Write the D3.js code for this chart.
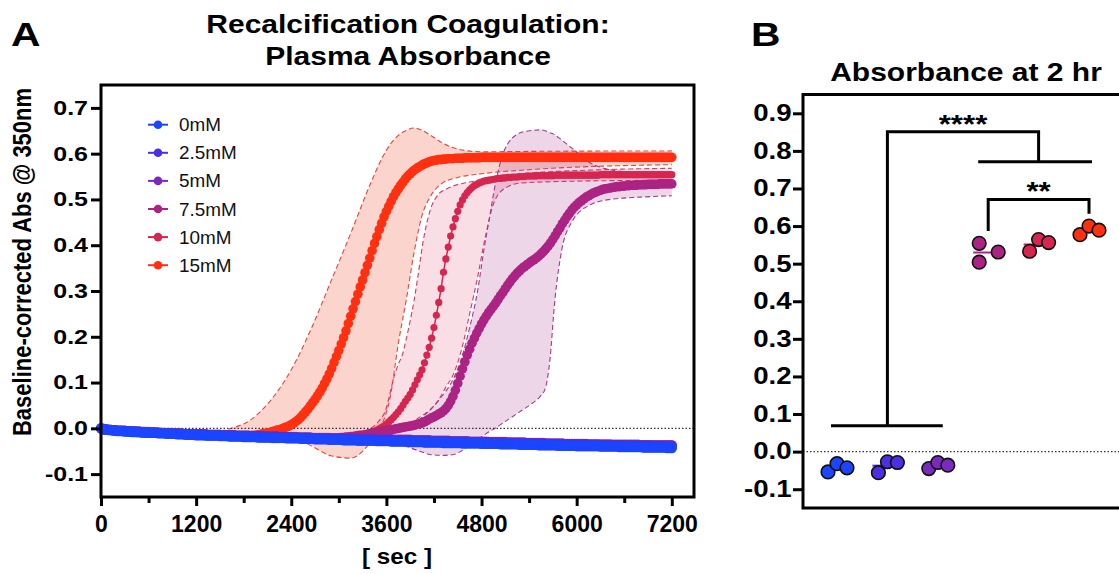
<!DOCTYPE html>
<html>
<head>
<meta charset="utf-8">
<script src="https://cdn.jsdelivr.net/npm/d3@7"></script>
<style>
  html, body { margin: 0; padding: 0; background: #fff; }
  svg { display: block; }
</style>
</head>
<body>
<div id="chart"></div>
<script>
// ---------- data ----------
const seriesNames = ["0mM", "2.5mM", "5mM", "7.5mM", "10mM", "15mM"];
const seriesColors = ["#1b45ff", "#4a30e2", "#7a2bbd", "#ab2383", "#d6264f", "#ff3010"];

// plate reads every 30 s, 0..7200 s ; absorbance values below are in milli-units
const readTimes = d3.range(0, 7201, 30);

const abs0mM = [0,-2,-3,-4,-4,-5,-5,-6,-6,-6,-7,-7,-7,-8,-8,-8,-8,-9,-9,-9,
-10,-10,-10,-10,-11,-11,-11,-11,-12,-12,-12,-12,-13,-13,-13,-13,-14,-14,-14,-14,
-15,-15,-15,-15,-16,-16,-16,-16,-16,-16,-17,-17,-17,-17,-18,-18,-18,-18,-18,-18,
-19,-19,-19,-19,-19,-19,-20,-20,-20,-20,-20,-20,-21,-21,-21,-21,-21,-21,-22,-22,
-22,-22,-22,-22,-23,-23,-23,-23,-23,-23,-24,-24,-24,-24,-24,-24,-25,-25,-25,-25,
-25,-25,-26,-26,-26,-26,-26,-26,-27,-27,-27,-27,-27,-27,-27,-27,-28,-28,-28,-28,
-28,-28,-29,-29,-29,-29,-29,-29,-29,-29,-30,-30,-30,-30,-30,-30,-31,-31,-31,-31,
-31,-31,-31,-31,-32,-32,-32,-32,-32,-32,-32,-32,-33,-33,-33,-33,-33,-33,-33,-33,
-34,-34,-34,-34,-34,-34,-34,-34,-35,-35,-35,-35,-35,-35,-35,-35,-36,-36,-36,-36,
-36,-36,-36,-36,-37,-37,-37,-37,-37,-37,-37,-37,-38,-38,-38,-38,-38,-38,-38,-38,
-39,-39,-39,-39,-39,-39,-39,-39,-39,-39,-40,-40,-40,-40,-40,-40,-40,-40,-41,-41,
-41,-41,-41,-41,-41,-41,-41,-41,-42,-42,-42,-42,-42,-42,-42,-42,-42,-42,-43,-43,
-43];

const abs25mM = [0,-2,-3,-3,-4,-4,-5,-5,-5,-6,-6,-6,-7,-7,-7,-8,-8,-8,-8,-9,
-9,-9,-9,-10,-10,-10,-10,-11,-11,-11,-11,-12,-12,-12,-12,-13,-13,-13,-13,-13,
-14,-14,-14,-14,-14,-15,-15,-15,-15,-15,-15,-16,-16,-16,-16,-16,-16,-17,-17,-17,
-17,-17,-17,-18,-18,-18,-18,-18,-18,-19,-19,-19,-19,-19,-19,-20,-20,-20,-20,-20,
-20,-21,-21,-21,-21,-21,-21,-22,-22,-22,-22,-22,-22,-22,-23,-23,-23,-23,-23,-23,
-23,-24,-24,-24,-24,-24,-24,-24,-25,-25,-25,-25,-25,-25,-25,-25,-26,-26,-26,-26,
-26,-26,-26,-26,-27,-27,-27,-27,-27,-27,-27,-27,-28,-28,-28,-28,-28,-28,-28,-28,
-29,-29,-29,-29,-29,-29,-29,-29,-30,-30,-30,-30,-30,-30,-30,-30,-31,-31,-31,-31,
-31,-31,-31,-31,-31,-31,-32,-32,-32,-32,-32,-32,-32,-32,-33,-33,-33,-33,-33,-33,
-33,-33,-34,-34,-34,-34,-34,-34,-34,-34,-35,-35,-35,-35,-35,-35,-35,-35,-35,-35,
-36,-36,-36,-36,-36,-36,-36,-36,-36,-36,-37,-37,-37,-37,-37,-37,-37,-37,-37,-37,
-38,-38,-38,-38,-38,-38,-38,-38,-38,-38,-38,-38,-39,-39,-39,-39,-39,-39,-39,-39,
-39];

const abs5mM = [0,-1,-2,-3,-3,-4,-4,-5,-5,-5,-5,-6,-6,-7,-7,-7,-7,-8,-8,-8,
-8,-9,-9,-9,-9,-10,-10,-10,-10,-10,-11,-11,-11,-11,-11,-12,-12,-12,-12,-12,
-13,-13,-13,-13,-13,-14,-14,-14,-14,-14,-14,-15,-15,-15,-15,-15,-15,-16,-16,-16,
-16,-16,-16,-17,-17,-17,-17,-17,-17,-18,-18,-18,-18,-18,-18,-19,-19,-19,-19,-19,
-19,-19,-19,-20,-20,-20,-20,-20,-20,-21,-21,-21,-21,-21,-21,-21,-21,-22,-22,-22,
-22,-22,-22,-22,-22,-22,-23,-23,-23,-23,-23,-23,-23,-23,-24,-24,-24,-24,-24,-24,
-24,-24,-24,-25,-25,-25,-25,-25,-25,-25,-25,-26,-26,-26,-26,-26,-26,-26,-26,-27,
-27,-27,-27,-27,-27,-27,-27,-28,-28,-28,-28,-28,-28,-28,-28,-29,-29,-29,-29,-29,
-29,-29,-29,-30,-30,-30,-30,-30,-30,-30,-30,-31,-31,-31,-31,-31,-31,-31,-31,-32,
-32,-32,-32,-32,-32,-32,-32,-33,-33,-33,-33,-33,-33,-33,-33,-34,-34,-34,-34,-34,
-34,-34,-34,-34,-34,-35,-35,-35,-35,-35,-35,-35,-35,-35,-35,-36,-36,-36,-36,-36,
-36,-36,-36,-36,-36,-36,-36,-37,-37,-37,-37,-37,-37,-37,-37,-37,-37,-37,-37,-37,
-37];

const abs75mM = [0,-1,-2,-3,-3,-4,-4,-5,-5,-5,-5,-6,-6,-7,-7,-7,-7,-8,-8,-8,
-8,-9,-9,-9,-9,-10,-10,-10,-10,-10,-11,-11,-11,-11,-11,-12,-12,-12,-12,-12,
-13,-13,-13,-13,-13,-14,-14,-14,-14,-14,-14,-15,-15,-15,-15,-15,-15,-16,-16,-16,
-16,-16,-16,-17,-17,-17,-17,-17,-17,-18,-18,-18,-18,-18,-18,-19,-19,-19,-19,-19,
-19,-19,-19,-20,-20,-20,-20,-20,-20,-21,-21,-21,-21,-21,-21,-21,-21,-21,-21,-21,
-21,-20,-20,-19,-19,-18,-18,-17,-16,-15,-15,-14,-13,-12,-11,-10,-9,-8,-7,-6,
-5,-4,-3,-2,-1,0,1,2,3,4,5,6,7,9,10,12,14,17,20,23,
25,28,31,34,38,43,50,59,70,83,98,114,130,145,160,173,186,197,208,218,
228,237,245,253,260,267,274,282,290,297,305,313,320,327,333,339,344,349,353,357,
361,365,368,372,376,381,386,392,398,405,413,421,430,438,447,455,463,470,477,483,
488,493,497,501,505,508,511,514,516,518,520,522,523,524,525,526,527,528,528,529,
529,530,530,531,531,531,532,532,532,532,533,533,533,533,533,534,534,534,534,534,
534];

const abs10mM = [0,-1,-2,-3,-3,-4,-4,-5,-5,-5,-5,-6,-6,-7,-7,-7,-7,-8,-8,-8,
-8,-9,-9,-9,-9,-10,-10,-10,-10,-10,-11,-11,-11,-11,-11,-12,-12,-12,-12,-12,
-13,-13,-13,-13,-13,-14,-14,-14,-14,-14,-14,-15,-15,-15,-15,-15,-15,-16,-16,-16,
-16,-16,-16,-17,-17,-17,-17,-17,-17,-18,-18,-18,-18,-18,-18,-19,-19,-19,-19,-19,
-19,-19,-19,-20,-20,-20,-20,-20,-20,-21,-21,-21,-21,-21,-21,-21,-21,-22,-22,-22,
-22,-22,-22,-22,-21,-21,-20,-19,-18,-17,-16,-14,-12,-10,-8,-6,-4,-1,2,5,
9,14,19,24,30,36,43,51,59,66,74,84,95,106,117,128,143,160,177,197,
220,247,275,305,341,370,396,420,440,458,474,488,499,508,515,521,526,530,533,536,
538,540,541,542,543,544,545,546,546,547,547,548,548,549,549,549,550,550,550,551,
551,551,551,551,552,552,552,552,552,552,552,553,553,553,553,553,553,553,553,553,
553,553,553,553,553,553,553,553,553,553,554,554,554,554,554,554,554,554,554,554,
554,554,554,554,554,554,554,554,554,554,554,554,554,554,554,554,554,554,554,554,
554];

const abs15mM = [0,-1,-2,-3,-3,-4,-4,-5,-5,-5,-5,-6,-6,-7,-7,-7,-7,-8,-8,-8,
-8,-9,-9,-9,-9,-10,-10,-10,-10,-10,-11,-11,-11,-11,-11,-12,-12,-12,-12,-12,
-13,-13,-13,-13,-13,-14,-14,-14,-14,-14,-14,-15,-15,-15,-15,-15,-15,-16,-16,-16,
-16,-16,-16,-16,-15,-15,-14,-13,-12,-11,-10,-9,-7,-6,-4,-3,-1,1,3,5,
8,11,15,19,24,30,36,42,49,56,63,71,79,88,98,108,119,131,144,157,
170,184,198,213,229,245,261,277,293,309,324,340,356,372,388,404,419,434,448,462,
474,485,496,506,515,523,531,538,545,551,556,561,565,569,572,575,578,580,582,584,
585,586,587,587,588,588,589,589,589,590,590,590,590,591,591,591,591,591,591,591,
592,592,592,592,592,592,592,592,592,592,592,592,592,592,592,592,592,592,592,592,
592,592,592,592,592,592,592,592,592,592,592,592,592,592,592,592,592,592,592,592,
592,592,592,592,592,592,592,592,592,592,592,592,592,592,592,592,592,592,592,592,
592,592,592,592,592,592,592,592,592,592,592,592,592,592,592,592,592,592,592,592,
592];

const seriesValues = [abs0mM, abs25mM, abs5mM, abs75mM, abs10mM, abs15mM];

// SD bands (upper / lower limits, milli-units)
const band15Time  = [0, 1200, 1700, 1900, 2100, 2400, 2650, 2900, 3150, 3400, 3550, 3650, 3750, 3850, 3950, 4050, 4150, 4300, 4500, 4800, 5400, 7200];
const band15Upper = [0, -12, 3, 20, 53, 128, 217, 321, 426, 535, 592, 621, 640, 651, 656, 651, 641, 624, 610, 604, 605, 606];
const band15Lower = [0, -13, -16, -18, -19, -20, -38, -60, -65, -30, 10, 70, 185, 280, 385, 465, 505, 535, 548, 556, 565, 576];

const band10Time  = [0, 3000, 3300, 3500, 3600, 3650, 3700, 3750, 3800, 3850, 3900, 3950, 4000, 4060, 4150, 4250, 4350, 4450, 4560, 4650, 4750, 4850, 4950, 5100, 5300, 6000, 7200];
const band10Upper = [0, -20, -8, 15, 45, 80, 115, 140, 160, 195, 235, 280, 335, 405, 475, 510, 522, 530, 535, 538, 541, 544, 547, 551, 556, 563, 568];
const band10Lower = [0, -24, -22, -18, -15, -12, -9, -5, 0, 5, 10, 16, 22, 29, 40, 60, 90, 120, 180, 250, 330, 420, 490, 525, 536, 540, 542];

const band75Time  = [0, 3000, 3400, 3770, 4020, 4150, 4300, 4450, 4560, 4650, 4750, 4830, 4900, 4970, 5090, 5280, 5410, 5540, 5600, 5660, 5725, 5810, 5940, 6170, 6420, 6800, 7200];
const band75Upper = [0, -20, -12, 0, 20, 40, 70, 110, 160, 220, 300, 390, 460, 530, 608, 645, 650, 652, 650, 646, 641, 630, 612, 580, 565, 558, 556];
const band75Lower = [0, -24, -27, -35, -50, -57, -59, -57, -48, -37, -25, -15, -7, 0, 14, 36, 51, 70, 85, 145, 280, 388, 451, 488, 500, 505, 508];

// panel B: absorbance at 2 hr, three replicates per group
const abs2hr = [
  [-0.054, -0.032, -0.043],
  [-0.056, -0.027, -0.029],
  [-0.045, -0.029, -0.036],
  [0.554, 0.504, 0.531],
  [0.533, 0.564, 0.556],
  [0.577, 0.600, 0.589]
];

// significance brackets (y values)
const bracketAllTop = 0.851, bracketAllLeft = 0.069, bracketAllRight = 0.771;
const bracketPairTop = 0.671, bracketPairLeft = 0.587, bracketPairRight = 0.633;

const yTicksA = [-0.1, 0.0, 0.1, 0.2, 0.3, 0.4, 0.5, 0.6, 0.7];
const xTicksA = [0, 1200, 2400, 3600, 4800, 6000, 7200];
const xMinorA = [600, 1800, 3000, 4200, 5400, 6600];
const yTicksB = [-0.1, 0.0, 0.1, 0.2, 0.3, 0.4, 0.5, 0.6, 0.7, 0.8, 0.9];

// ---------- setup ----------
const FONT = "'Liberation Sans', Arial, Helvetica, sans-serif";
const width = 1119, height = 574;
const milli = v => v / 1000;

const svg = d3.select("#chart").append("svg")
  .attr("width", width).attr("height", height)
  .attr("viewBox", `0 0 ${width} ${height}`);
svg.append("rect").attr("width", width).attr("height", height).attr("fill", "#fff");

// text a bit wider than the font (the figure is stretched sideways)
function addText(parent, str, x, y, size, sx, anchor, weight) {
  return parent.append("text")
    .attr("transform", `translate(${x},${y}) scale(${sx},1)`)
    .attr("text-anchor", anchor || "start")
    .style("font-family", FONT)
    .style("font-size", size + "px")
    .style("font-weight", weight || "bold")
    .attr("fill", "#000")
    .text(str);
}

// ---------- panel A ----------
const xA = d3.scaleLinear().domain([0, 7480]).range([101, 694]);
const yA = d3.scaleLinear().domain([-0.15, 0.75]).range([497, 85]);

const gA = svg.append("g");

// SD bands with dashed limits
const bandDefs = [
  { t: band15Time, up: band15Upper, lo: band15Lower, fill: "rgba(245,100,80,0.28)", stroke: "#e5473b" },
  { t: band10Time, up: band10Upper, lo: band10Lower, fill: "rgba(215,50,100,0.16)", stroke: "#d33c63" },
  { t: band75Time, up: band75Upper, lo: band75Lower, fill: "rgba(165,50,140,0.2)", stroke: "#a23a8c" }
];
bandDefs.forEach(b => {
  const pts = b.t.map((t, i) => ({ t, up: milli(b.up[i]), lo: milli(b.lo[i]) }));
  gA.append("path").datum(pts)
    .attr("d", d3.area().x(d => xA(d.t)).y0(d => yA(d.lo)).y1(d => yA(d.up)).curve(d3.curveMonotoneX))
    .attr("fill", b.fill);
  [d => d.up, d => d.lo].forEach(acc => {
    gA.append("path").datum(pts)
      .attr("d", d3.line().x(d => xA(d.t)).y(d => yA(acc(d))).curve(d3.curveMonotoneX))
      .attr("fill", "none").attr("stroke", b.stroke)
      .attr("stroke-width", 1.1).attr("stroke-dasharray", "5,3");
  });
});

// zero line
gA.append("line")
  .attr("x1", xA.range()[0]).attr("x2", xA.range()[1])
  .attr("y1", yA(0)).attr("y2", yA(0))
  .attr("stroke", "#333").attr("stroke-width", 1.2).attr("stroke-dasharray", "1.5,2");

// series: 15mM first, 0mM last (on top)
const dotR = [5.2, 5.2, 5.2, 4.8, 3.6, 4.8];
for (let s = seriesNames.length - 1; s >= 0; s--) {
  const pts = readTimes.map((t, i) => ({ t, v: milli(seriesValues[s][i]) }));
  gA.append("path").datum(pts)
    .attr("d", d3.line().x(d => xA(d.t)).y(d => yA(d.v)))
    .attr("fill", "none").attr("stroke", seriesColors[s]).attr("stroke-width", 1.5);
  gA.append("g").selectAll("circle").data(pts).join("circle")
    .attr("cx", d => xA(d.t)).attr("cy", d => yA(d.v))
    .attr("r", dotR[s]).attr("fill", seriesColors[s]);
}

// frame
gA.append("rect")
  .attr("x", 101).attr("y", 85).attr("width", 593).attr("height", 412)
  .attr("fill", "none").attr("stroke", "#000").attr("stroke-width", 3);

// y axis
const yAxA = gA.append("g").attr("transform", "translate(101,0)")
  .call(d3.axisLeft(yA).tickValues(yTicksA).tickSize(10).tickFormat(d => d.toFixed(1)));
yAxA.select(".domain").remove();
yAxA.selectAll(".tick line").attr("stroke", "#000").attr("stroke-width", 3);
yAxA.selectAll(".tick text")
  .attr("x", -13 / 1.25).attr("transform", "scale(1.25,1)")
  .style("font-family", FONT).style("font-size", "20px").style("font-weight", "bold").attr("fill", "#000");

// x axis (major + minor)
const xAxA = gA.append("g").attr("transform", "translate(0,497)")
  .call(d3.axisBottom(xA).tickValues(xTicksA).tickSize(9).tickFormat(d => d));
xAxA.select(".domain").remove();
xAxA.selectAll(".tick line").attr("stroke", "#000").attr("stroke-width", 3);
xAxA.selectAll(".tick text").attr("y", 35).attr("dy", null)
  .style("font-family", FONT).style("font-size", "23px").style("font-weight", "bold").attr("fill", "#000");
const xMinA = gA.append("g").attr("transform", "translate(0,497)")
  .call(d3.axisBottom(xA).tickValues(xMinorA).tickSize(6).tickFormat(""));
xMinA.select(".domain").remove();
xMinA.selectAll(".tick line").attr("stroke", "#000").attr("stroke-width", 3);

// titles / labels
addText(svg, "Recalcification Coagulation:", 408, 33, 25, 1.2, "middle");
addText(svg, "Plasma Absorbance", 408, 65, 25, 1.2, "middle");
addText(svg, "[ sec ]", 397, 564, 22, 1.1, "middle");
svg.append("text")
  .attr("transform", "translate(31,262) scale(1.2,1) rotate(-90)")
  .attr("text-anchor", "middle")
  .style("font-family", FONT).style("font-size", "22px").style("font-weight", "bold")
  .text("Baseline-corrected Abs @ 350nm");
addText(svg, "A", 11, 46, 34, 1.2, "start");
addText(svg, "B", 751, 46, 34, 1.2, "start");

// legend
const legend = svg.append("g");
seriesNames.forEach((name, i) => {
  const y = 124.7 + i * 28.1;
  legend.append("line").attr("x1", 148).attr("x2", 168).attr("y1", y).attr("y2", y)
    .attr("stroke", seriesColors[i]).attr("stroke-width", 2);
  legend.append("circle").attr("cx", 158).attr("cy", y).attr("r", 4.3).attr("fill", seriesColors[i]);
  addText(legend, name, 179, y + 6.5, 18, 1.05, "start", "normal").attr("fill", "#111");
});

// ---------- panel B ----------
const xB = d3.scalePoint().domain(seriesNames).range([837, 1089]);
const yB = d3.scaleLinear().domain([-0.15, 0.95]).range([508, 94.5]);
const gB = svg.append("g");

gB.append("line")
  .attr("x1", 803).attr("x2", width).attr("y1", yB(0)).attr("y2", yB(0))
  .attr("stroke", "#333").attr("stroke-width", 1.2).attr("stroke-dasharray", "1.5,2");

const jitter = [[-9, 0, 10], [-9, 0, 10], [-9, 0, 10], [-9, -9, 10], [-9, 0, 10], [-9, 0, 10]];
seriesNames.forEach((name, gi) => {
  const cx = xB(name);
  const m = d3.mean(abs2hr[gi]);
  gB.append("line").attr("x1", cx - 15).attr("x2", cx + 15)
    .attr("y1", yB(m)).attr("y2", yB(m))
    .attr("stroke", seriesColors[gi]).attr("stroke-width", 2);
  gB.append("g").selectAll("circle").data(abs2hr[gi]).join("circle")
    .attr("cx", (d, k) => cx + jitter[gi][k]).attr("cy", d => yB(d))
    .attr("r", 6.8).attr("fill", seriesColors[gi])
    .attr("stroke", "#111").attr("stroke-width", 1.6);
});

// brackets
const bk = gB.append("g").attr("fill", "none").attr("stroke", "#000").attr("stroke-width", 3);
const legL = (xB("0mM") + xB("5mM")) / 2, legR = (xB("7.5mM") + xB("15mM")) / 2;
bk.append("line").attr("x1", xB("0mM") - 6).attr("x2", xB("5mM") + 5).attr("y1", yB(bracketAllLeft)).attr("y2", yB(bracketAllLeft));
bk.append("line").attr("x1", xB("7.5mM") - 10).attr("x2", xB("15mM") + 3).attr("y1", yB(bracketAllRight)).attr("y2", yB(bracketAllRight));
bk.append("path").attr("d", `M${legL},${yB(bracketAllLeft)}V${yB(bracketAllTop)}H${legR}V${yB(bracketAllRight)}`);
bk.append("path").attr("d", `M${xB("7.5mM")},${yB(bracketPairLeft)}V${yB(bracketPairTop)}H${xB("15mM")}V${yB(bracketPairRight)}`);
addText(gB, "****", (legL + legR) / 2, yB(bracketAllTop) + 1, 26, 1.2, "middle");
addText(gB, "**", (xB("7.5mM") + xB("15mM")) / 2, yB(bracketPairTop) + 1, 26, 1.2, "middle");

// frame (right edge runs off the picture)
gB.append("path").attr("d", `M${width + 5},94.5H803V508H${width + 5}`)
  .attr("fill", "none").attr("stroke", "#000").attr("stroke-width", 3);

const yAxB = gB.append("g").attr("transform", "translate(803,0)")
  .call(d3.axisLeft(yB).tickValues(yTicksB).tickSize(10).tickFormat(d => d.toFixed(1)));
yAxB.select(".domain").remove();
yAxB.selectAll(".tick line").attr("stroke", "#000").attr("stroke-width", 3);
yAxB.selectAll(".tick text")
  .attr("x", -11.5 / 1.2).attr("transform", "scale(1.2,1)")
  .style("font-family", FONT).style("font-size", "23px").style("font-weight", "bold").attr("fill", "#000");

addText(svg, "Absorbance at 2 hr", 966, 81, 25, 1.2, "middle");
</script>
</body>
</html>
